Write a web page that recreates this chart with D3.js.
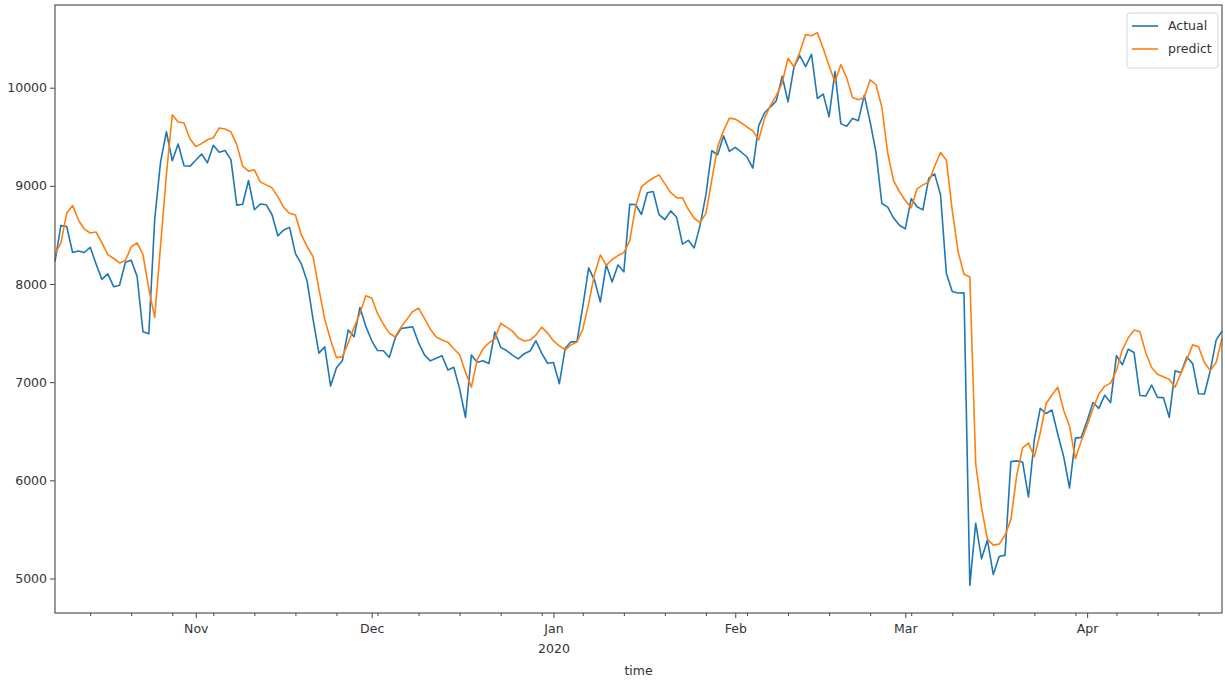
<!DOCTYPE html>
<html>
<head>
<meta charset="utf-8">
<script src="https://cdn.jsdelivr.net/npm/d3@7"></script>
<style>
  html, body { margin: 0; padding: 0; background: #fff; }
  svg { display: block; }
  text { font-family: "DejaVu Sans", sans-serif; fill: #333; }
</style>
</head>
<body>
<svg id="chart" width="1225" height="682"></svg>
<script>
// Daily series, first value on 2019-10-08
const startDate = new Date(Date.UTC(2019, 9, 8));

const actual = [
  // Oct 8 - Oct 31
  8228, 8595, 8586, 8321, 8336, 8321, 8374, 8205, 8047, 8103, 7973, 7988, 8222, 8243, 8078, 7514, 7493, 8660, 9244, 9551, 9256, 9427, 9205, 9199,
  // Nov
  9261, 9324, 9235, 9413, 9342, 9360, 9267, 8804, 8813, 9055, 8757, 8815, 8808, 8708, 8491, 8550, 8577, 8309, 8206, 8027, 7642, 7296, 7360, 6960, 7146, 7218, 7531, 7463, 7761, 7569,
  // Dec
  7424, 7322, 7320, 7252, 7448, 7546, 7556, 7564, 7400, 7278, 7217, 7243, 7269, 7124, 7152, 6932, 6640, 7276, 7202, 7218, 7191, 7511, 7355, 7322, 7275, 7238, 7290, 7317, 7422, 7293, 7193,
  // Jan
  7200, 6985, 7345, 7411, 7411, 7769, 8164, 8038, 7817, 8197, 8021, 8193, 8124, 8812, 8810, 8708, 8929, 8942, 8707, 8657, 8745, 8681, 8407, 8445, 8368, 8597, 8910, 9358, 9317, 9509, 9351,
  // Feb
  9393, 9345, 9294, 9181, 9614, 9745, 9805, 9866, 10117, 9856, 10208, 10327, 10215, 10340, 9890, 9935, 9704, 10164, 9634, 9608, 9687, 9664, 9925, 9651, 9341, 8820, 8784, 8672, 8599,
  // Mar
  8562, 8869, 8787, 8755, 9078, 9122, 8909, 8108, 7923, 7909, 7911, 4930, 5563, 5200, 5392, 5040, 5225, 5238, 6191, 6198, 6186, 5830, 6416, 6734, 6681, 6716, 6469, 6242, 5922, 6430, 6438,
  // Apr 1 - Apr 24
  6607, 6793, 6733, 6868, 6792, 7271, 7176, 7335, 7302, 6865, 6859, 6971, 6845, 6843, 6642, 7116, 7096, 7257, 7189, 6882, 6880, 7117, 7429, 7520
];

const predict = [
  // Oct 8 - Oct 31
  8300, 8420, 8720, 8800, 8650, 8560, 8520, 8530, 8420, 8300, 8260, 8215, 8240, 8380, 8420, 8300, 7950, 7660, 8390, 9120, 9724, 9650, 9640, 9480,
  // Nov
  9400, 9430, 9470, 9490, 9590, 9580, 9550, 9420, 9200, 9150, 9163, 9041, 9010, 8980, 8890, 8780, 8720, 8704, 8500, 8380, 8280, 7950, 7640, 7430, 7250, 7260, 7400, 7560, 7700, 7880,
  // Dec
  7857, 7700, 7590, 7500, 7460, 7560, 7640, 7720, 7755, 7650, 7540, 7460, 7430, 7408, 7340, 7280, 7100, 6950, 7230, 7340, 7400, 7440, 7600, 7560, 7520, 7450, 7420, 7429, 7480, 7561, 7500,
  // Jan
  7420, 7370, 7330, 7380, 7408, 7540, 7800, 8100, 8296, 8190, 8250, 8290, 8320, 8440, 8786, 8990, 9040, 9080, 9112, 9020, 8930, 8880, 8878, 8760, 8670, 8625, 8720, 9060, 9400, 9560, 9690,
  // Feb
  9680, 9643, 9600, 9560, 9469, 9690, 9820, 9920, 10050, 10300, 10214, 10360, 10541, 10530, 10561, 10400, 10220, 10060, 10235, 10100, 9900, 9878, 9900, 10080, 10030, 9800, 9330, 9050, 8940,
  // Mar
  8850, 8776, 8970, 9010, 9040, 9200, 9340, 9260, 8750, 8330, 8100, 8071, 6173, 5720, 5400, 5340, 5350, 5440, 5600, 6050, 6330, 6380, 6240, 6480, 6780, 6870, 6949, 6714, 6550, 6220, 6400,
  // Apr 1 - Apr 24
  6560, 6730, 6880, 6960, 6990, 7120, 7330, 7450, 7531, 7515, 7300, 7150, 7080, 7055, 7030, 6950, 7092, 7230, 7380, 7360, 7200, 7120, 7200, 7449
];

const seriesNames = ["Actual", "predict"];
const seriesColors = ["#1f77b4", "#ff7f0e"];

const yTicks = [5000, 6000, 7000, 8000, 9000, 10000];
const monthLabels = ["Nov", "Dec", "Jan", "Feb", "Mar", "Apr"];
const yearLabels = { "Jan": "2020" };
const xLabel = "time";

const dates = actual.map((_, i) => d3.utcDay.offset(startDate, i));

const svg = d3.select("#chart");
const W = 1225, H = 682;
const margin = { left: 55, right: 3, top: 5, bottom: 69 };
const plotL = margin.left, plotR = W - margin.right;
const plotT = margin.top, plotB = H - margin.bottom;

// x: data range with no padding (time series)
const x = d3.scaleUtc()
  .domain([dates[0], dates[dates.length - 1]])
  .range([plotL, plotR]);

// y: 5% padding on both ends
const all = actual.concat(predict);
const [lo, hi] = d3.extent(all);
const pad = (hi - lo) * 0.05;
const y = d3.scaleLinear()
  .domain([lo - pad, hi + pad])
  .range([plotB, plotT]);

// Lines
const line = d3.line()
  .x((d, i) => x(dates[i]))
  .y(d => y(d));

const plot = svg.append("g");
[actual, predict].forEach((vals, k) => {
  plot.append("path")
    .datum(vals)
    .attr("fill", "none")
    .attr("stroke", seriesColors[k])
    .attr("stroke-width", 1.6)
    .attr("stroke-linejoin", "round")
    .attr("d", line);
});

// Y axis
const yAxis = d3.axisLeft(y)
  .tickValues(yTicks)
  .tickFormat(d3.format("d"))
  .tickSize(5)
  .tickPadding(3);
const gy = svg.append("g")
  .attr("transform", `translate(${plotL},0)`)
  .call(yAxis);
gy.select(".domain").remove();
gy.selectAll(".tick line").attr("stroke", "#444");
gy.selectAll(".tick text")
  .attr("font-size", 12.5)
  .style("font-family", "'DejaVu Sans', sans-serif")
  .attr("fill", "#333");

// X axis: minor weekly ticks (Mondays), major monthly ticks
const minorDates = d3.utcMonday.range(dates[0], d3.utcDay.offset(dates[dates.length - 1], 1));
const gxMinor = svg.append("g")
  .attr("transform", `translate(0,${plotB})`)
  .call(d3.axisBottom(x).tickValues(minorDates).tickSize(3).tickFormat(""));
gxMinor.select(".domain").remove();
gxMinor.selectAll(".tick line").attr("stroke", "#444");

const majorDates = d3.utcMonth.range(d3.utcMonth.ceil(dates[0]), d3.utcDay.offset(dates[dates.length - 1], 1));
const gxMajor = svg.append("g")
  .attr("transform", `translate(0,${plotB})`)
  .call(d3.axisBottom(x).tickValues(majorDates).tickSize(5).tickFormat((d, i) => monthLabels[i]).tickPadding(6));
gxMajor.select(".domain").remove();
gxMajor.selectAll(".tick line").attr("stroke", "#444");
gxMajor.selectAll(".tick text")
  .attr("font-size", 12.5)
  .style("font-family", "'DejaVu Sans', sans-serif")
  .attr("fill", "#333");
gxMajor.selectAll(".tick").each(function (d, i) {
  const yr = yearLabels[monthLabels[i]];
  if (yr) {
    d3.select(this).append("text")
      .attr("y", 31)
      .attr("dy", "0.71em")
      .attr("text-anchor", "middle")
      .attr("font-size", 12.5)
      .attr("fill", "#333")
      .text(yr);
  }
});

// Axis label
svg.append("text")
  .attr("x", (plotL + plotR) / 2)
  .attr("y", 675)
  .attr("text-anchor", "middle")
  .attr("font-size", 12.5)
  .text(xLabel);

// Frame
svg.append("rect")
  .attr("x", plotL).attr("y", plotT)
  .attr("width", plotR - plotL).attr("height", plotB - plotT)
  .attr("fill", "none")
  .attr("stroke", "#555")
  .attr("stroke-width", 1.2);

// Legend
const lg = svg.append("g").attr("transform", "translate(1127,13)");
lg.append("rect")
  .attr("width", 91).attr("height", 55)
  .attr("rx", 3)
  .attr("fill", "#fff").attr("fill-opacity", 0.8)
  .attr("stroke", "#d5d5d5");
seriesNames.forEach((name, k) => {
  const cy = 13 + k * 23;
  lg.append("line")
    .attr("x1", 5).attr("x2", 31)
    .attr("y1", cy).attr("y2", cy)
    .attr("stroke", seriesColors[k]).attr("stroke-width", 1.6);
  lg.append("text")
    .attr("x", 41).attr("y", cy)
    .attr("dy", "0.35em")
    .attr("font-size", 12.5)
    .text(name);
});
</script>
</body>
</html>
